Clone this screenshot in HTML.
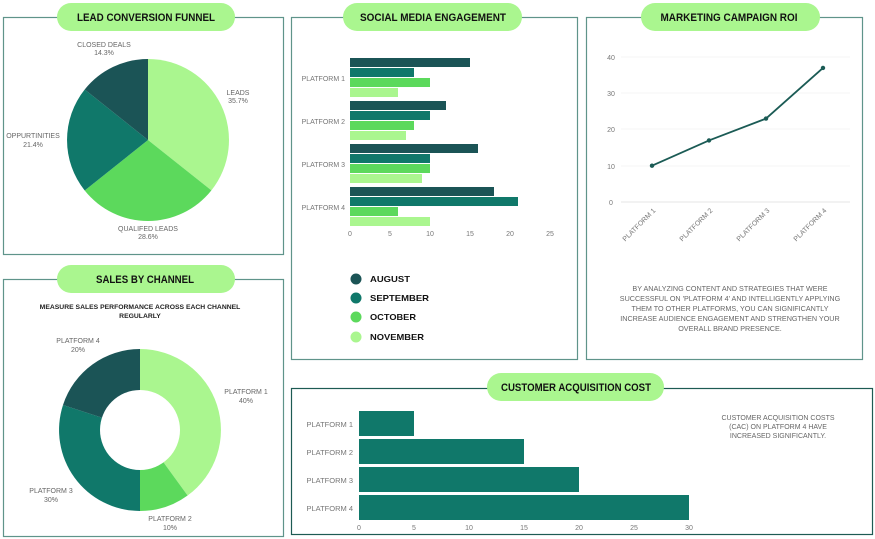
<!DOCTYPE html>
<html><head><meta charset="utf-8"><style>
body{margin:0;background:#fff;width:875px;height:539px;overflow:hidden}
svg{display:block}
text{font-family:"Liberation Sans",sans-serif}
.t{font-weight:bold;font-size:11px;fill:#111;text-anchor:middle}
.l{font-size:7px;fill:#666;text-anchor:middle}
.a{font-size:7px;fill:#777}
.lg{font-weight:bold;font-size:8.5px;fill:#111}
</style></head><body>
<svg width="875" height="539" viewBox="0 0 875 539">
<g fill="none" stroke="#5f948a" stroke-width="1.2">
<rect x="3.5" y="17.5" width="280" height="237"/>
<rect x="291.5" y="17.5" width="286" height="342"/>
<rect x="586.5" y="17.5" width="276" height="342"/>
<rect x="3.5" y="279.5" width="280" height="257"/>
<rect x="291.5" y="388.5" width="581" height="146" stroke="#1d5b53"/>
</g>
<g fill="#aaf68f">
<rect x="57" y="3" width="178" height="28" rx="14"/>
<rect x="343" y="3" width="179" height="28" rx="14"/>
<rect x="641" y="3" width="179" height="28" rx="14"/>
<rect x="57" y="265" width="178" height="28" rx="14"/>
<rect x="487" y="373" width="177" height="28" rx="14"/>
</g>
<text class="t" x="146" y="21" textLength="138" lengthAdjust="spacingAndGlyphs">LEAD CONVERSION FUNNEL</text>
<text class="t" x="433" y="21" textLength="146" lengthAdjust="spacingAndGlyphs">SOCIAL MEDIA ENGAGEMENT</text>
<text class="t" x="729" y="21" textLength="137" lengthAdjust="spacingAndGlyphs">MARKETING CAMPAIGN ROI</text>
<text class="t" x="145" y="283" textLength="98" lengthAdjust="spacingAndGlyphs">SALES BY CHANNEL</text>
<text class="t" x="576" y="391" textLength="150" lengthAdjust="spacingAndGlyphs">CUSTOMER ACQUISITION COST</text>

<!-- pie 1 -->
<path d="M148 140 L148 59 A81 81 0 0 1 211.4 190.4Z" fill="#aaf68f"/>
<path d="M148 140 L211.4 190.4 A81 81 0 0 1 84.7 190.5Z" fill="#5cd95c"/>
<path d="M148 140 L84.7 190.5 A81 81 0 0 1 84.7 89.5Z" fill="#10786a"/>
<path d="M148 140 L84.7 89.5 A81 81 0 0 1 148 59Z" fill="#1b5456"/>
<text class="l" x="104" y="47">CLOSED DEALS</text><text class="l" x="104" y="55">14.3%</text>
<text class="l" x="238" y="95">LEADS</text><text class="l" x="238" y="103">35.7%</text>
<text class="l" x="33" y="138">OPPURTINITIES</text><text class="l" x="33" y="147">21.4%</text>
<text class="l" x="148" y="231">QUALIFED LEADS</text><text class="l" x="148" y="239">28.6%</text>

<!-- social bars -->
<g fill="#1b5456"><rect x="350" y="58" width="120" height="9"/><rect x="350" y="101" width="96" height="9"/><rect x="350" y="144" width="128" height="9"/><rect x="350" y="187" width="144" height="9"/></g>
<g fill="#10786a"><rect x="350" y="68" width="64" height="9"/><rect x="350" y="111" width="80" height="9"/><rect x="350" y="154" width="80" height="9"/><rect x="350" y="197" width="168" height="9"/></g>
<g fill="#5cd95c"><rect x="350" y="78" width="80" height="9"/><rect x="350" y="121" width="64" height="9"/><rect x="350" y="164" width="80" height="9"/><rect x="350" y="207" width="48" height="9"/></g>
<g fill="#aaf68f"><rect x="350" y="88" width="48" height="9"/><rect x="350" y="131" width="56" height="9"/><rect x="350" y="174" width="72" height="9"/><rect x="350" y="217" width="80" height="9"/></g>
<g class="a" text-anchor="end"><text x="345" y="81">PLATFORM 1</text><text x="345" y="124">PLATFORM 2</text><text x="345" y="167">PLATFORM 3</text><text x="345" y="210">PLATFORM 4</text></g>
<g class="a" text-anchor="middle"><text x="350" y="236">0</text><text x="390" y="236">5</text><text x="430" y="236">10</text><text x="470" y="236">15</text><text x="510" y="236">20</text><text x="550" y="236">25</text></g>
<circle cx="356" cy="279" r="5.5" fill="#1b5456"/><circle cx="356" cy="298" r="5.5" fill="#10786a"/><circle cx="356" cy="317" r="5.5" fill="#5cd95c"/><circle cx="356" cy="337" r="5.5" fill="#aaf68f"/>
<text class="lg" x="370" y="282" textLength="40" lengthAdjust="spacingAndGlyphs">AUGUST</text><text class="lg" x="370" y="301" textLength="59" lengthAdjust="spacingAndGlyphs">SEPTEMBER</text><text class="lg" x="370" y="320" textLength="46" lengthAdjust="spacingAndGlyphs">OCTOBER</text><text class="lg" x="370" y="340" textLength="54" lengthAdjust="spacingAndGlyphs">NOVEMBER</text>

<!-- line chart -->
<g stroke="#f0f0f0" stroke-width="0.8"><line x1="621" y1="57" x2="850" y2="57"/><line x1="621" y1="93" x2="850" y2="93"/><line x1="621" y1="129" x2="850" y2="129"/><line x1="621" y1="166" x2="850" y2="166"/></g>
<line x1="621" y1="202" x2="850" y2="202" stroke="#ddd" stroke-width="0.8"/>
<g class="a" text-anchor="middle"><text x="611" y="60">40</text><text x="611" y="96">30</text><text x="611" y="132">20</text><text x="611" y="169">10</text><text x="611" y="205">0</text></g>
<polyline points="652,165.7 709,140.4 766,118.6 823,67.9" fill="none" stroke="#1b5b55" stroke-width="1.8"/>
<g fill="#1b5b55"><circle cx="652" cy="165.7" r="2.2"/><circle cx="709" cy="140.4" r="2.2"/><circle cx="766" cy="118.6" r="2.2"/><circle cx="823" cy="67.9" r="2.2"/></g>
<g class="a" text-anchor="end">
<text transform="translate(656,211) rotate(-45)">PLATFORM 1</text>
<text transform="translate(713,211) rotate(-45)">PLATFORM 2</text>
<text transform="translate(770,211) rotate(-45)">PLATFORM 3</text>
<text transform="translate(827,211) rotate(-45)">PLATFORM 4</text>
</g>
<g class="l" style="font-size:7.2px"><text x="730" y="291">BY ANALYZING CONTENT AND STRATEGIES THAT WERE</text><text x="730" y="301">SUCCESSFUL ON 'PLATFORM 4' AND INTELLIGENTLY APPLYING</text><text x="730" y="311">THEM TO OTHER PLATFORMS, YOU CAN SIGNIFICANTLY</text><text x="730" y="321">INCREASE AUDIENCE ENGAGEMENT AND STRENGTHEN YOUR</text><text x="730" y="331">OVERALL BRAND PRESENCE.</text></g>

<!-- donut -->
<text x="140" y="309" style="font-size:6.8px;font-weight:bold;fill:#222" text-anchor="middle">MEASURE SALES PERFORMANCE ACROSS EACH CHANNEL</text>
<text x="140" y="318" style="font-size:6.8px;font-weight:bold;fill:#222" text-anchor="middle">REGULARLY</text>
<path d="M140 430 L140 349 A81 81 0 0 1 187.6 495.5Z" fill="#aaf68f"/>
<path d="M140 430 L187.6 495.5 A81 81 0 0 1 140 511Z" fill="#5cd95c"/>
<path d="M140 430 L140 511 A81 81 0 0 1 63 405Z" fill="#10786a"/>
<path d="M140 430 L63 405 A81 81 0 0 1 140 349Z" fill="#1b5456"/>
<circle cx="140" cy="430" r="40" fill="#fff"/>
<text class="l" x="78" y="343">PLATFORM 4</text><text class="l" x="78" y="352">20%</text>
<text class="l" x="246" y="394">PLATFORM 1</text><text class="l" x="246" y="403">40%</text>
<text class="l" x="51" y="493">PLATFORM 3</text><text class="l" x="51" y="502">30%</text>
<text class="l" x="170" y="521">PLATFORM 2</text><text class="l" x="170" y="530">10%</text>

<!-- CAC -->
<g fill="#10786a"><rect x="359" y="411" width="55" height="25"/><rect x="359" y="439" width="165" height="25"/><rect x="359" y="467" width="220" height="25"/><rect x="359" y="495" width="330" height="25"/></g>
<g class="a" text-anchor="end" style="font-size:7.5px"><text x="353" y="427">PLATFORM 1</text><text x="353" y="455">PLATFORM 2</text><text x="353" y="483">PLATFORM 3</text><text x="353" y="511">PLATFORM 4</text></g>
<g class="a" text-anchor="middle"><text x="359" y="530">0</text><text x="414" y="530">5</text><text x="469" y="530">10</text><text x="524" y="530">15</text><text x="579" y="530">20</text><text x="634" y="530">25</text><text x="689" y="530">30</text></g>
<g class="l"><text x="778" y="420">CUSTOMER ACQUISITION COSTS</text><text x="778" y="429">(CAC) ON PLATFORM 4 HAVE</text><text x="778" y="438">INCREASED SIGNIFICANTLY.</text></g>
</svg>
</body></html>
